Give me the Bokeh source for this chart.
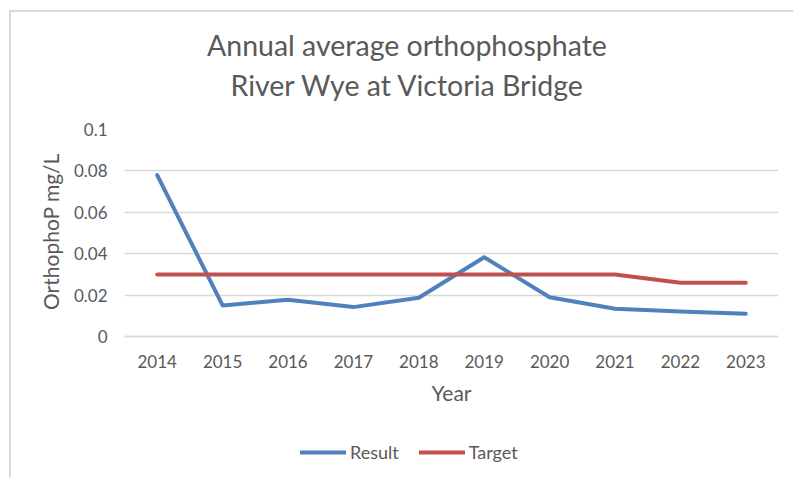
from bokeh.plotting import figure
from bokeh.models import FactorRange, Range1d, Title, Legend, LegendItem, FixedTicker
from bokeh.embed import file_html
from bokeh.resources import INLINE

years = ["2014", "2015", "2016", "2017", "2018", "2019", "2020", "2021", "2022", "2023"]
result = [0.078, 0.015, 0.0177, 0.0142, 0.0187, 0.0383, 0.019, 0.0134, 0.0121, 0.011]
target = [0.03, 0.03, 0.03, 0.03, 0.03, 0.03, 0.03, 0.03, 0.026, 0.026]
y_ticks = [0, 0.02, 0.04, 0.06, 0.08, 0.1]
y_tick_labels = ["0", "0.02", "0.04", "0.06", "0.08", "0.1"]

FONT = "Lato"
TXT = "#595959"

# frame extends below the value axis so that the legend can sit inside it
p = figure(frame_width=654, frame_height=348, output_backend="svg", toolbar_location=None,
           x_range=FactorRange(*years, range_padding=0),
           y_range=Range1d(-0.1 * 141 / 207, 0.1),
           min_border_left=113, min_border_right=15, min_border_top=117, min_border_bottom=0)
p.margin = (10, 0, 0, 9)
p.styles = {"border-top": "2px solid #d9d9d9", "border-left": "2px solid #d9d9d9"}
p.outline_line_color = None

p.xgrid.grid_line_color = None
p.ygrid.grid_line_color = "#d9d9d9"
p.ygrid.grid_line_width = 1.5
p.yaxis.ticker = FixedTicker(ticks=y_ticks)
p.yaxis.major_label_overrides = dict(zip(y_ticks, y_tick_labels))

for ax in (p.xaxis, p.yaxis):
    ax.major_tick_line_color = None
    ax.minor_tick_line_color = None
    ax.major_tick_out = 0
    ax.major_tick_in = 0
    ax.minor_tick_out = 0
    ax.minor_tick_in = 0
    ax.major_label_text_font = FONT
    ax.major_label_text_font_size = "17px"
    ax.major_label_text_color = TXT
    ax.axis_label_text_font = FONT
    ax.axis_label_text_font_size = "21px"
    ax.axis_label_text_color = TXT
    ax.axis_label_text_font_style = "normal"

p.yaxis.axis_line_color = None
p.xaxis.axis_line_color = "#d9d9d9"
p.xaxis.axis_line_width = 1.5
p.xaxis.fixed_location = 0
p.yaxis.major_label_standoff = 17
p.xaxis.major_label_standoff = 18
p.xaxis.axis_label = "Year"
p.xaxis.axis_label_standoff = 9

ylab = Title(text="OrthophoP mg/L", align="left", offset=167.5, standoff=15, text_font=FONT,
             text_font_size="21px", text_color=TXT, text_font_style="normal")
p.add_layout(ylab, "left")

r1 = p.line(years, result, line_color="#4F81BD", line_width=4, line_cap="round", line_join="round")
r2 = p.line(years, target, line_color="#C0504D", line_width=4, line_cap="round", line_join="round")

t2 = Title(text="River Wye at Victoria Bridge", align="left", offset=106, text_font=FONT,
           text_font_size="28.5px", text_color=TXT, text_font_style="normal", standoff=55)
t1 = Title(text="Annual average orthophosphate", align="left", offset=82.5, text_font=FONT,
           text_font_size="28.5px", text_color=TXT, text_font_style="normal", standoff=-46)
p.add_layout(t2, "above")
p.add_layout(t1, "above")

legend = Legend(items=[LegendItem(label="Result", renderers=[r1]),
                       LegendItem(label="Target", renderers=[r2])],
                orientation="horizontal", location=(176, 14),
                label_text_font=FONT, label_text_font_size="18px", label_text_color=TXT,
                glyph_width=46, glyph_height=20, label_standoff=4, spacing=20,
                padding=0, margin=0, border_line_color=None, background_fill_alpha=0)
p.add_layout(legend, "center")

open("out.html", "w").write(file_html(p, INLINE))
